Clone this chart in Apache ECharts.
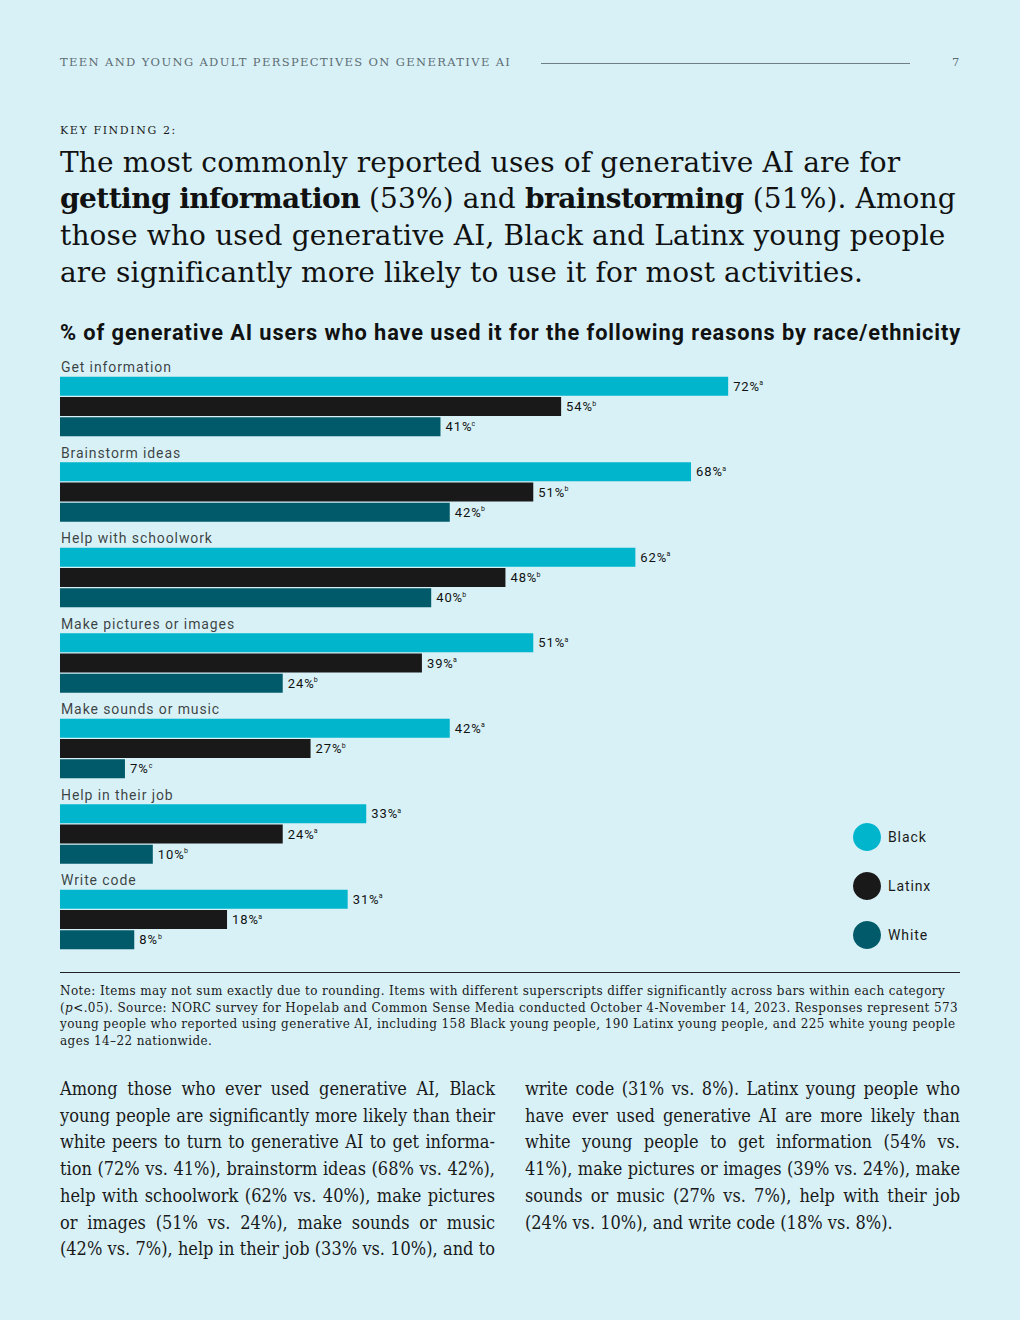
<!DOCTYPE html>
<html>
<head>
<meta charset="utf-8">
<script src="https://cdn.jsdelivr.net/npm/echarts@6/dist/echarts.min.js"></script>
<style>
  html, body { margin:0; padding:0; }
  body { width:1020px; height:1320px; background:#d8f1f7; position:relative; overflow:hidden; color:#111; }
  .abs { position:absolute; white-space:nowrap; }
  #header { left:60px; top:55px; font:11.5px 'DejaVu Serif'; letter-spacing:1.36px; color:#5d6d73; }
  #hrule { left:541px; top:63px; width:369px; height:1px; background:#6e7f86; }
  #pagenum { left:952px; top:55px; font:11.5px 'DejaVu Serif'; color:#5d6d73; }
  #kf { left:60px; top:124px; font:11px 'DejaVu Serif'; letter-spacing:1.6px; color:#1a1a1a; }
  #headline { left:60px; top:144.6px; font:28px 'DejaVu Serif'; letter-spacing:0.14px; line-height:36.7px; color:#111; }
  #headline b { font-weight:bold; letter-spacing:-0.55px; }
  #chart { position:absolute; left:0; top:310px; width:1020px; height:660px; letter-spacing:0.9px; }
  #nrule { left:60px; top:972px; width:900px; height:1px; background:#222; }
  #note { left:60px; top:983px; font:12px 'DejaVu Serif'; letter-spacing:0.4px; line-height:16.5px; color:#1a1a1a; }
  .col { position:absolute; top:1076px; width:435px; font:18px 'DejaVu Serif Condensed','DejaVu Serif'; line-height:26.7px; color:#1a1a1a; }
  .col div { text-align:justify; text-align-last:justify; white-space:nowrap; }
  .col div.last { text-align-last:left; }
</style>
</head>
<body>
<div id="header" class="abs">TEEN AND YOUNG ADULT PERSPECTIVES ON GENERATIVE AI</div>
<div id="hrule" class="abs"></div>
<div id="pagenum" class="abs">7</div>
<div id="kf" class="abs">KEY FINDING 2:</div>
<div id="headline" class="abs">The most commonly reported uses of generative AI are for<br><b>getting information</b> (53%) and <b>brainstorming</b> (51%). Among<br>those who used generative AI, Black and Latinx young people<br>are significantly more likely to use it for most activities.</div>
<div id="chart"></div>
<div id="nrule" class="abs"></div>
<div id="note" class="abs">Note: Items may not sum exactly due to rounding. Items with different superscripts differ significantly across bars within each category<br>(<i>p</i>&lt;.05). Source: NORC survey for Hopelab and Common Sense Media conducted October 4-November 14, 2023. Responses represent 573<br>young people who reported using generative AI, including 158 Black young people, 190 Latinx young people, and 225 white young people<br>ages 14–22 nationwide.</div>
<div class="col" style="left:60px;">
  <div>Among those who ever used generative AI, Black</div>
  <div>young people are significantly more likely than their</div>
  <div>white peers to turn to generative AI to get informa-</div>
  <div>tion (72% vs. 41%), brainstorm ideas (68% vs. 42%),</div>
  <div>help with schoolwork (62% vs. 40%), make pictures</div>
  <div>or images (51% vs. 24%), make sounds or music</div>
  <div>(42% vs. 7%), help in their job (33% vs. 10%), and to</div>
</div>
<div class="col" style="left:525px;">
  <div>write code (31% vs. 8%). Latinx young people who</div>
  <div>have ever used generative AI are more likely than</div>
  <div>white young people to get information (54% vs.</div>
  <div>41%), make pictures or images (39% vs. 24%), make</div>
  <div>sounds or music (27% vs. 7%), help with their job</div>
  <div class="last">(24% vs. 10%), and write code (18% vs. 8%).</div>
</div>
<script>
const categories = ['Get information','Brainstorm ideas','Help with schoolwork','Make pictures or images','Make sounds or music','Help in their job','Write code'];
const seriesNames = ['Black','Latinx','White'];
const blackValues = [72,68,62,51,42,33,31];
const latinxValues = [54,51,48,39,27,24,18];
const whiteValues = [41,42,40,24,7,10,8];
const blackSup = ['a','a','a','a','a','a','a'];
const latinxSup = ['b','b','b','a','b','a','a'];
const whiteSup = ['c','b','b','b','c','b','b'];
const colors = ['#00b5cc','#191919','#005a69'];

const chart = echarts.init(document.getElementById('chart'), null, {renderer:'svg'});
function mkSeries(name, values, sups, color){
  return {
    name, type:'bar', data: values, barWidth:19, barGap:'7%',
    itemStyle:{color},
    label:{
      show:true, position:'right', distance:5,
      formatter: p => '{v|' + p.value + '%}{s|' + sups[p.dataIndex] + '}',
      rich:{
        v:{fontSize:13, fontFamily:'Roboto', color:'#111'},
        s:{fontSize:7, fontFamily:'Roboto', color:'#111', verticalAlign:'top', padding:[0,0,0,2]}
      }
    }
  };
}
chart.setOption({
  animation:false,
  color: colors,
  title:{
    text:'% of generative AI users who have used it for the following reasons by race/ethnicity',
    left:55, top:6,
    textStyle:{fontFamily:'Roboto', fontWeight:'bold', fontSize:21.8, color:'#111'}
  },
  legend:{
    orient:'vertical', left:853, top:513, padding:0, itemWidth:28, itemHeight:28, itemGap:21,
    icon:'circle', data: seriesNames,
    textStyle:{fontFamily:'Roboto', fontSize:14, color:'#1a1a1a', padding:[0,0,0,2]}
  },
  grid:{left:60, right:32, top:53.75, height:598.5, containLabel:false},
  xAxis:{type:'value', min:0, max:100, show:false},
  yAxis:{
    type:'category', inverse:true, data: categories,
    axisLine:{show:false}, axisTick:{show:false}, splitLine:{show:false},
    axisLabel:{show:false}
  },
  series:[
    mkSeries(seriesNames[0], blackValues, blackSup, colors[0]),
    mkSeries(seriesNames[1], latinxValues, latinxSup, colors[1]),
    mkSeries(seriesNames[2], whiteValues, whiteSup, colors[2]),
    {
      name:'categoryLabels', type:'scatter', symbolSize:0, silent:true,
      data: categories.map(c => [0, c]),
      label:{
        show:true, position:'right', distance:1, offset:[0,-39.5],
        formatter: p => p.value[1],
        fontFamily:'Roboto', fontSize:14, color:'#111'
      }
    }
  ]
});
</script>
</body>
</html>
